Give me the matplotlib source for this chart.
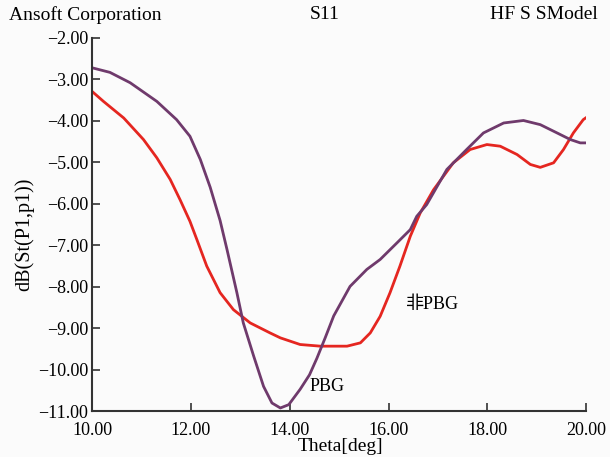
import matplotlib
matplotlib.use("Agg")
import matplotlib.pyplot as plt
from matplotlib.ticker import FuncFormatter

# courbe PBG (violet)
pbg_x = [10.0, 10.36, 10.77, 11.31, 11.71, 11.98, 12.19, 12.39, 12.59, 12.73, 12.93,
         13.06, 13.27, 13.47, 13.64, 13.81, 13.98, 14.21, 14.40, 14.55, 14.72, 14.89,
         15.22, 15.56, 15.83, 16.17, 16.44, 16.57, 16.77, 16.91, 17.18, 17.58, 17.92,
         18.33, 18.73, 19.07, 19.41, 19.68, 19.88, 20.05]
pbg_y = [-2.72, -2.83, -3.08, -3.53, -3.97, -4.37, -4.93, -5.6, -6.4, -7.1, -8.14,
         -8.87, -9.67, -10.40, -10.80, -10.92, -10.84, -10.47, -10.12, -9.72, -9.22, -8.70,
         -7.99, -7.58, -7.34, -6.94, -6.62, -6.30, -6.02, -5.73, -5.17, -4.69, -4.29,
         -4.05, -3.99, -4.09, -4.29, -4.45, -4.53, -4.53]

# courbe non PBG (rouge)
npbg_x = [10.0, 10.23, 10.64, 11.04, 11.31, 11.58, 11.78, 11.98, 12.12, 12.32, 12.59,
          12.86, 13.20, 13.60, 13.81, 14.21, 14.62, 15.16, 15.43, 15.63, 15.83, 16.03,
          16.23, 16.44, 16.64, 16.91, 17.31, 17.65, 17.99, 18.26, 18.60, 18.87, 19.07,
          19.34, 19.54, 19.74, 19.94, 20.06]
npbg_y = [-3.29, -3.53, -3.93, -4.45, -4.89, -5.41, -5.90, -6.42, -6.86, -7.50, -8.14,
          -8.55, -8.87, -9.11, -9.23, -9.39, -9.43, -9.43, -9.35, -9.11, -8.71, -8.14,
          -7.50, -6.78, -6.22, -5.66, -5.01, -4.69, -4.57, -4.61, -4.81, -5.05, -5.12,
          -5.01, -4.69, -4.29, -3.97, -3.87]

x_ticks = [10, 12, 14, 16, 18, 20]
y_ticks = [-2, -3, -4, -5, -6, -7, -8, -9, -10, -11]


def fmt(v, pos):
    s = '%.2f' % v
    return s.replace('-', '\u2212')


plt.rcParams['font.family'] = ['Liberation Serif', 'Noto Sans CJK SC']
plt.rcParams['font.size'] = 13

fig = plt.figure(figsize=(6.1, 4.57), dpi=100, facecolor='#fbfbfb')
ax = fig.add_axes([0.151, 0.100, 0.810, 0.817])
ax.set_facecolor('#fbfbfb')

ax.plot(npbg_x, npbg_y, color='#e52620', lw=2)
ax.plot(pbg_x, pbg_y, color='#6f3a6c', lw=2)

ax.set_xlim(10, 20)
ax.set_ylim(-11, -2)
ax.set_xticks(x_ticks)
ax.set_yticks(y_ticks)
ax.xaxis.set_major_formatter(FuncFormatter(fmt))
ax.yaxis.set_major_formatter(FuncFormatter(fmt))
ax.tick_params(direction='in', length=5.5, width=1.2, color='#333333')
ax.tick_params(axis='x', pad=8)
ax.tick_params(axis='y', pad=3)
for s in ['top', 'right']:
    ax.spines[s].set_visible(False)
for s in ['left', 'bottom']:
    ax.spines[s].set_linewidth(1.5)
    ax.spines[s].set_color('#333333')

ax.set_xlabel('Theta[deg]', fontsize=14)
ax.set_ylabel('dB(St(P1,p1))', fontsize=14.5)
ax.xaxis.set_label_coords(0.502, -0.072)
ax.yaxis.set_label_coords(-0.117, 0.475)

ax.text(14.4, -10.4, 'PBG', va='center', ha='left')
ax.text(16.36, -8.43, '非PBG', va='center', ha='left')

fig.text(0.015, 0.968, 'Ansoft Corporation', ha='left', va='center', fontsize=14)
fig.text(0.533, 0.968, 'S11', ha='center', va='center', fontsize=14)
fig.text(0.98, 0.968, 'HF S SModel', ha='right', va='center', fontsize=14)

fig.savefig('out.png', dpi=100, facecolor=fig.get_facecolor())
